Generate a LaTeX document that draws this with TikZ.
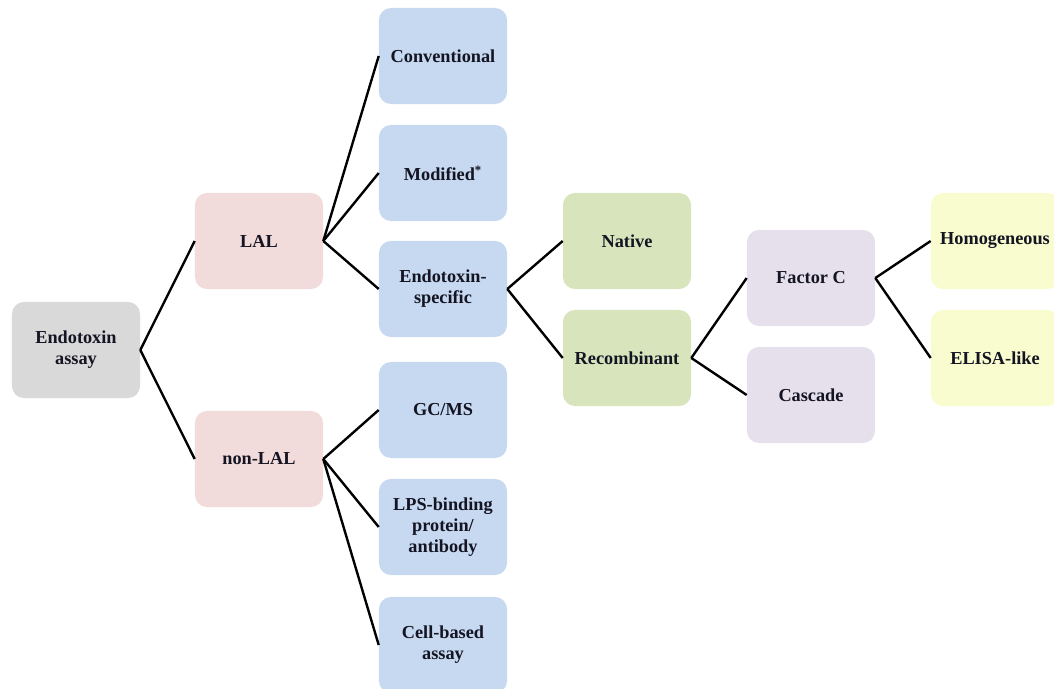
\documentclass[tikz,border=0pt]{standalone}
\usepackage{tikz}
\usepackage{xcolor}
\usepackage{fontspec}
\setmainfont{Liberation Serif}
\usetikzlibrary{shapes,arrows,positioning}
\definecolor{rootgray}{RGB}{217, 217, 217}
\definecolor{lalpink}{RGB}{242, 220, 219}
\definecolor{methblue}{RGB}{198, 217, 240}
\definecolor{srcgreen}{RGB}{216, 228, 188}
\definecolor{typepurple}{RGB}{229, 224, 236}
\definecolor{fmtyellow}{RGB}{248, 252, 206}
\definecolor{textdark}{RGB}{20, 20, 35}
\tikzstyle{link} = [
    line width=1.7pt,
    draw=black
]
\tikzstyle{box} = [
    rectangle,
    rounded corners=3mm,
    minimum width=3.2cm,
    minimum height=2.4cm,
    align=center,
    text=textdark,
    font=\fontsize{13}{15}\selectfont\bfseries
]

\begin{document}
\begin{tikzpicture}[x=0.025cm, y=-0.025cm]
    \useasboundingbox (0,0) rectangle (1054,689);
        % level 0 and 1
        \node[box, fill=rootgray] (endo) at (76,350) {Endotoxin\\assay};
        \node[box, fill=lalpink] (lal) at (259,241) {LAL};
        \node[box, fill=lalpink] (nonlal) at (259,459) {non-LAL};
        % methods
        \node[box, fill=methblue] (conv) at (443,56) {Conventional};
        \node[box, fill=methblue] (mod) at (443,173) {Modified\textsuperscript{*}};
        \node[box, fill=methblue] (spec) at (443,289) {Endotoxin-\\specific};
        \node[box, fill=methblue] (gcms) at (443,410) {GC/MS};
        \node[box, fill=methblue] (lps) at (443,527) {LPS-binding\\protein/\\antibody};
        \node[box, fill=methblue] (cell) at (443,645) {Cell-based\\assay};
        % lysate source
        \node[box, fill=srcgreen] (native) at (627,241) {Native};
        \node[box, fill=srcgreen] (recomb) at (627,358) {Recombinant};
        \node[box, fill=typepurple] (factc) at (811,278) {Factor C};
        \node[box, fill=typepurple] (cascade) at (811,395) {Cascade};
        \node[box, fill=fmtyellow] (homog) at (995,241) {Homogeneous};
        \node[box, fill=fmtyellow] (elisa) at (995,358) {ELISA-like};
        % connectors
        \foreach \from/\to in {endo/lal, endo/nonlal,
                lal/conv, lal/mod, lal/spec,
                nonlal/gcms, nonlal/lps, nonlal/cell,
                spec/native, spec/recomb,
                recomb/factc, recomb/cascade,
                factc/homog, factc/elisa}
            \draw[link] (\from.east) -- (\to.west);
    \end{tikzpicture}
\end{document}
